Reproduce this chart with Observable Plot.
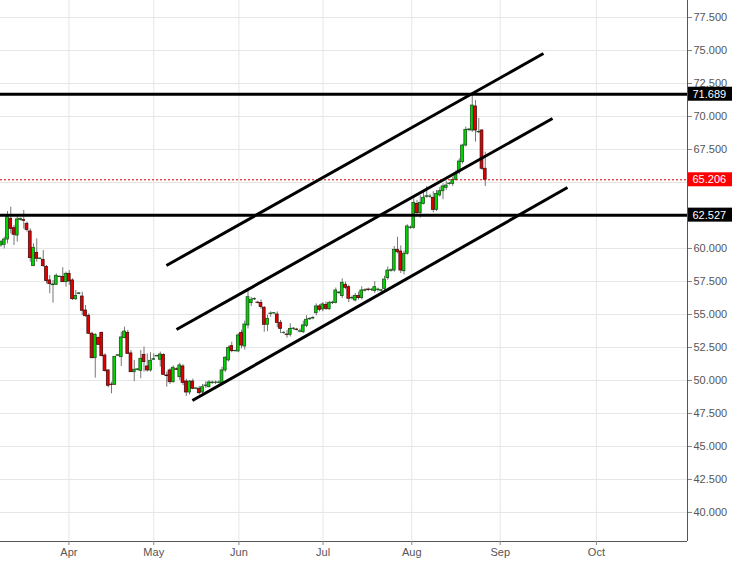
<!DOCTYPE html>
<html><head><meta charset="utf-8">
<script src="https://cdn.jsdelivr.net/npm/d3@7"></script>
<script src="https://cdn.jsdelivr.net/npm/@observablehq/plot@0.6"></script>
<style>html,body{margin:0;padding:0;background:#fff;} svg{display:block}</style>
</head><body><div id="chart"></div>
<script>
// Daily candles (trading-day index 0..149)
const opens = [
60.23,60.28,60.68,62.25,61.54,60.98,62.17,62.15,61.87,61.29,
58.66,59.67,59.20,59.14,58.61,57.58,57.22,57.25,57.83,57.85,
57.45,58.08,57.58,56.16,56.55,56.36,55.30,54.90,53.54,51.69,
53.23,53.61,51.89,50.76,49.69,49.67,51.87,51.77,53.21,53.61,
52.05,50.63,50.80,50.73,51.94,51.06,50.76,51.57,51.82,51.57,
51.94,50.38,50.76,49.87,50.85,50.25,51.06,49.92,49.09,49.92,
49.37,49.37,49.09,49.58,49.49,49.80,49.82,49.82,49.82,50.76,
51.52,52.60,52.22,52.20,53.59,52.58,54.17,55.86,56.14,55.90,
55.88,55.51,54.22,55.03,55.08,55.00,54.37,53.59,53.48,53.46,
53.90,53.86,53.70,53.66,54.14,54.63,54.70,55.10,55.61,55.38,
55.73,55.40,55.86,55.88,56.62,56.39,57.25,57.07,56.22,56.06,
56.41,56.24,56.80,56.89,56.85,56.77,56.85,56.80,56.94,57.75,
58.31,58.33,59.90,59.77,58.28,59.60,61.55,61.57,63.38,62.68,
63.38,63.92,63.92,63.84,62.93,64.02,64.34,64.60,64.88,64.90,
65.20,65.78,66.54,67.80,68.97,68.94,70.76,68.80,68.94,66.04];
const highs = [
60.60,60.86,62.80,63.13,61.74,62.55,62.30,62.88,62.00,61.49,
60.35,60.73,59.30,59.85,58.71,57.95,57.58,58.08,57.90,58.54,
58.21,58.33,57.70,56.82,56.65,56.69,55.68,55.05,53.66,53.54,
53.28,53.66,52.02,50.80,49.87,51.80,51.95,53.66,54.04,53.79,
52.27,51.52,50.90,52.27,52.53,52.02,52.10,52.02,51.90,52.15,
52.02,50.63,50.90,51.10,50.95,51.30,51.20,50.10,50.00,50.10,
49.45,49.55,49.70,49.90,50.00,49.95,49.95,49.95,51.00,51.80,
52.60,52.90,52.30,53.55,53.80,54.50,56.90,56.30,56.25,56.00,
56.10,55.60,54.95,55.20,55.15,55.20,54.55,53.70,53.80,54.30,
54.00,53.95,53.90,54.50,54.90,54.75,54.85,55.80,55.75,55.90,
55.95,56.00,56.00,57.00,56.75,57.70,57.45,57.20,56.40,56.60,
56.70,57.10,56.95,57.00,56.95,57.50,57.00,56.90,57.90,58.60,
58.45,60.15,60.86,60.20,59.80,61.80,61.70,63.76,63.65,64.00,
64.30,64.70,64.10,64.30,64.40,64.60,64.90,65.10,65.00,65.40,
65.90,66.80,67.90,69.20,69.10,71.59,71.21,69.85,69.00,67.30];
const lows = [
60.10,59.97,60.35,61.11,60.23,60.48,62.10,61.47,61.24,58.96,
58.66,58.96,59.15,58.59,57.32,56.57,55.86,57.20,57.80,57.45,
57.07,57.20,56.06,56.06,56.50,54.92,54.80,53.48,51.64,50.18,
52.65,51.80,50.63,49.44,48.99,49.62,51.85,51.06,53.16,52.00,
50.60,49.92,50.75,50.13,50.63,50.63,50.63,51.52,51.80,51.01,
50.38,49.49,49.70,49.80,50.75,50.00,49.60,48.79,48.90,49.30,
49.30,48.90,49.00,49.40,49.45,49.70,49.70,49.75,49.70,50.60,
51.40,52.10,52.15,52.10,52.40,52.30,53.90,55.60,56.05,55.80,
55.40,53.66,53.70,54.80,55.00,54.00,53.55,53.50,53.20,53.30,
53.80,53.75,53.60,53.55,54.00,54.55,54.60,54.90,55.20,55.20,
55.30,55.30,55.75,55.80,56.50,56.20,56.90,55.90,56.10,55.95,
56.10,56.10,56.70,56.75,56.75,56.60,56.70,56.65,56.80,57.60,
58.20,58.20,59.60,58.10,58.00,59.50,61.45,61.45,62.40,62.30,
63.30,63.80,63.80,62.70,62.80,63.90,63.70,64.40,64.80,64.70,
65.10,65.60,66.40,67.70,68.85,68.80,68.06,68.70,65.91,64.70];
const closes = [
60.48,60.68,62.37,61.49,61.04,62.20,62.25,62.10,61.41,59.27,
60.05,59.22,59.24,58.66,57.53,57.30,57.27,57.93,57.87,57.45,
58.08,57.50,56.16,56.41,56.60,55.28,54.87,53.54,51.69,53.46,
52.70,51.84,50.71,49.60,49.65,51.79,51.91,53.26,53.71,52.02,
50.63,50.81,50.84,51.64,51.39,50.76,51.49,51.61,51.86,51.97,
50.43,50.33,49.87,50.96,50.81,51.14,49.82,49.09,49.92,49.37,
49.40,49.04,49.49,49.62,49.85,49.84,49.84,49.85,50.76,51.72,
52.47,52.22,52.24,53.41,52.65,54.24,56.31,56.11,56.18,55.88,
55.56,54.22,54.67,55.07,55.10,54.37,53.91,53.61,53.44,53.91,
53.93,53.82,53.73,54.17,54.60,54.67,54.74,55.61,55.35,55.76,
55.43,55.86,55.90,56.82,56.66,57.40,57.02,56.19,56.26,56.41,
56.24,56.82,56.84,56.85,56.88,57.07,56.89,56.84,57.65,58.33,
58.35,59.90,59.72,58.33,59.60,61.67,61.59,63.46,62.68,63.46,
63.84,63.96,63.94,62.93,64.14,64.34,64.70,64.77,64.92,65.20,
65.71,66.59,67.80,68.99,69.01,70.83,68.94,68.83,66.04,65.206];

// Axis ticks
const monthTicks = [20.9, 47.0, 73.2, 99.1, 126.4, 153.6, 183.2];
const monthLabels = ["Apr", "May", "Jun", "Jul", "Aug", "Sep", "Oct"];
const priceTicks = [40, 42.5, 45, 47.5, 50, 52.5, 55, 57.5, 60, 62.5, 65, 67.5, 70, 72.5, 75, 77.5];
const hiddenTickLabels = [62.5, 65]; // covered by the price boxes in the reference
const xDomain = [-0.154, 211.23];
const yDomain = [37.80, 78.79];

// Annotations
const levelValues = [71.689, 62.527];
const lastPrice = 65.206;
const channelX1 = [50.9, 54.0, 58.9];
const channelY1 = [58.71, 53.86, 48.48];
const channelX2 = [166.9, 169.7, 174.3];
const channelY2 = [74.77, 69.85, 64.62];
const labelValues = [71.689, 65.206, 62.527];
const labelColors = ["#000000", "#ff0000", "#000000"];

const candles = opens.map((o, i) => ({i, o, h: highs[i], l: lows[i], c: closes[i], up: closes[i] >= o}));
const channels = channelX1.map((x, k) => ({x1: x, y1: channelY1[k], x2: channelX2[k], y2: channelY2[k]}));
const priceLabels = labelValues.map((v, k) => ({value: v, color: labelColors[k]}));
const labelTicks = priceTicks.filter(t => !hiddenTickLabels.includes(t));
const halfW = 0.43;

const chart = Plot.plot({
  width: 737, height: 561,
  marginLeft: 0, marginTop: 0, marginRight: 50, marginBottom: 20,
  x: {domain: xDomain, axis: null},
  y: {domain: yDomain, axis: null},
  style: {fontFamily: "'Liberation Sans', Arial, sans-serif", fontSize: "11px", background: "#fff", overflow: "visible"},
  marks: [
    Plot.gridY(priceTicks, {stroke: "#e6e6e6", strokeOpacity: 1}),
    Plot.gridX(monthTicks, {stroke: "#e6e6e6", strokeOpacity: 1}),
    Plot.ruleX(candles, {x: "i", y1: "l", y2: "h", stroke: "#777", strokeWidth: 1}),
    Plot.rect(candles.filter(d => d.up), {x1: d => d.i - halfW, x2: d => d.i + halfW, y1: "o", y2: "c", fill: "#00d400", stroke: "#1d521d", strokeWidth: 0.8}),
    Plot.rect(candles.filter(d => !d.up), {x1: d => d.i - halfW, x2: d => d.i + halfW, y1: "o", y2: "c", fill: "#e00000", stroke: "#4a0c0c", strokeWidth: 0.8}),
    Plot.ruleY([lastPrice], {stroke: "#e00000", strokeWidth: 1, strokeDasharray: "2,2"}),
    Plot.ruleY(levelValues, {stroke: "#000", strokeWidth: 3}),
    Plot.link(channels, {x1: "x1", y1: "y1", x2: "x2", y2: "y2", stroke: "#000", strokeWidth: 3}),
    Plot.ruleY([yDomain[0]], {stroke: "#555", strokeWidth: 1}),
    Plot.ruleX([xDomain[1]], {stroke: "#555", strokeWidth: 1}),
    Plot.axisY(priceTicks, {anchor: "right", tickSize: 4, text: null, stroke: "#888", label: null}),
    Plot.axisY(labelTicks, {anchor: "right", tickSize: 4, tickPadding: 2, tickFormat: d => d.toFixed(3), fill: "#555", stroke: "#888", fontSize: 11, label: null}),
    Plot.axisX(monthTicks, {anchor: "bottom", tickSize: 4, tickPadding: 3, tickFormat: d => monthLabels[monthTicks.indexOf(d)], fill: "#555", stroke: "#888", fontSize: 11, label: null}),
    Plot.text(priceLabels, {y: "value", text: d => d.value.toFixed(3), frameAnchor: "right", dx: 5, textAnchor: "start", fill: "#fff", fontSize: 11})
  ]
});

document.getElementById("chart").appendChild(chart);

// background boxes for the price labels, positioned through Plot's y scale
const yS = chart.scale("y");
const firstLabel = Array.from(chart.querySelectorAll("text")).find(t => t.textContent === labelValues[0].toFixed(3));
if (firstLabel) {
  const labelsG = firstLabel.parentNode;
  const boxes = d3.create("svg:g");
  const x0 = 737 - 50 + 1;
  priceLabels.forEach(p => {
    boxes.append("rect").attr("x", x0).attr("y", yS.apply(p.value) - 7).attr("width", 44).attr("height", 14).attr("fill", p.color);
  });
  labelsG.parentNode.insertBefore(boxes.node(), labelsG);
}
</script>
</body></html>
